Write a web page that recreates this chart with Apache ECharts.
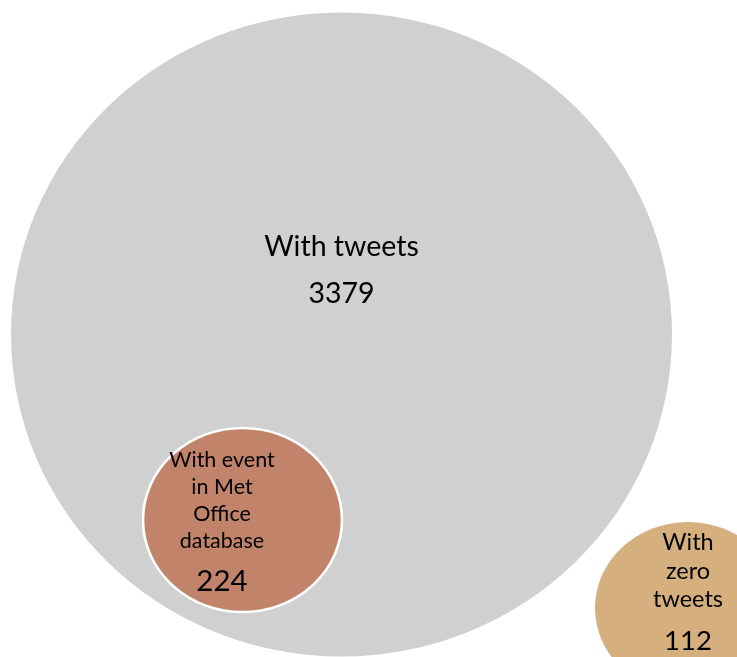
<!DOCTYPE html>
<html>
<head>
<meta charset="utf-8">
<script src="https://cdn.jsdelivr.net/npm/echarts@6/dist/echarts.min.js"></script>
<style>
  html, body { margin: 0; padding: 0; background: #ffffff; }
  #chart { width: 737px; height: 657px; }
</style>
</head>
<body>
<div id="chart"></div>
<script>
// Group names (line breaks as printed inside each bubble) and their counts
const categories = ['With tweets', 'With event\nin Met\nOffice\ndatabase', 'With\nzero\ntweets'];
const counts = [3379, 224, 112];

// Bubble layout in canvas units: centre, width, height
const centreX = [341.5, 242.5, 688];
const centreY = [334.5, 520, 608];
const bubbleW = [661, 199, 186];
const bubbleH = [644, 184, 172];

// Appearance of each bubble and its label block
const fills = ['#d0d0d0', '#c1836a', '#d5b07e'];
const borders = [0, 2.5, 0];
const nameFont = [28.5, 21.5, 23.5];
const nameLine = [47, 27, 28.5];
const valueFont = [28.5, 29.5, 27.5];
const valueLine = [47, 54, 55];
const labelShift = [[0, -64], [-20.5, 7.5], [0, -9.5]];

// Ellipse outline; stretched to the requested width/height by symbolSize
const ellipse = 'path://M0,50A50,50 0 1 1 100,50A50,50 0 1 1 0,50Z';

const seriesData = categories.map((name, i) => ({
  name: name,
  value: [centreX[i], centreY[i], counts[i]],
  symbolSize: [bubbleW[i], bubbleH[i]],
  itemStyle: {
    color: fills[i],
    opacity: 1,
    borderColor: '#ffffff',
    borderWidth: borders[i]
  },
  label: {
    show: true,
    position: 'inside',
    offset: labelShift[i],
    align: 'center',
    verticalAlign: 'middle',
    formatter: p => '{n|' + p.name + '}\n{v|' + p.value[2] + '}',
    rich: {
      n: { fontFamily: 'Lato', fontSize: nameFont[i], lineHeight: nameLine[i], color: '#000000', align: 'center' },
      v: { fontFamily: 'Lato', fontSize: valueFont[i], lineHeight: valueLine[i], color: '#000000', align: 'center' }
    }
  }
}));

const chart = echarts.init(document.getElementById('chart'), null, { renderer: 'canvas' });
chart.setOption({
  animation: false,
  backgroundColor: '#ffffff',
  grid: { left: 0, right: 0, top: 0, bottom: 0 },
  xAxis: { type: 'value', min: 0, max: 737, show: false },
  yAxis: { type: 'value', min: 0, max: 657, inverse: true, show: false },
  series: [{
    type: 'scatter',
    symbol: ellipse,
    clip: false,
    silent: true,
    emphasis: { disabled: true },
    data: seriesData
  }]
});
</script>
</body>
</html>
